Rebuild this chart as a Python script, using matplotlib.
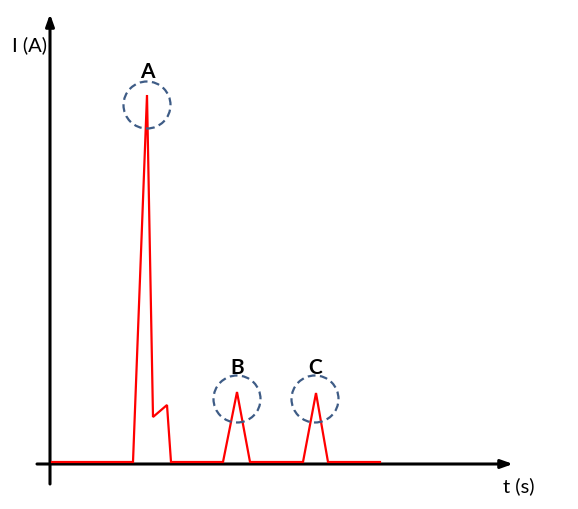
import matplotlib
matplotlib.use("Agg")
from matplotlib import pyplot as plt
from matplotlib.patches import Ellipse

# signal (arbitrary units)
t = [0.2, 8.3, 9.7, 10.3, 11.7, 12.1, 17.3, 18.7, 20.0, 25.3, 26.6, 27.8, 33.0]
current = [0.2, 0.2, 36.9, 4.7, 5.9, 0.2, 0.2, 7.2, 0.2, 0.2, 7.1, 0.2, 0.2]

# marked peaks
peak_names = ["A", "B", "C"]
peak_t = [9.7, 18.7, 26.5]
peak_i = [35.9, 6.5, 6.5]
label_i = [39.2, 9.6, 9.6]

fig = plt.figure(figsize=(5.78, 5.09), dpi=100)
ax = fig.add_axes([0, 0, 1, 1])
ax.set_xlim(-5.0, 52.8)
ax.set_ylim(-4.5, 46.4)
ax.axis("off")

# axes with arrows
arrow = dict(arrowstyle="-|>,head_length=0.7,head_width=0.25", color="black",
             lw=2.2, shrinkA=0, shrinkB=0)
ax.annotate("", xy=(46.3, 0), xytext=(-1.3, 0), arrowprops=arrow)
ax.annotate("", xy=(0, 45.0), xytext=(0, -2.0), arrowprops=arrow)

ax.plot(t, current, color="#FF0000", lw=1.6, solid_joinstyle="miter", zorder=3)

for name, x, y, ly in zip(peak_names, peak_t, peak_i, label_i):
    ax.add_patch(Ellipse((x, y), 4.7, 4.7, fill=False, ls=(0, (3.5, 2)),
                         lw=1.6, edgecolor="#3E5C86", zorder=4))
    ax.text(x, ly, name, ha="center", va="center", fontsize=15,
            fontweight="bold", family="Lato")

ax.text(-0.3, 41.9, "I (A)", ha="right", va="center", fontsize=14.5, family="Lato")
ax.text(46.9, -2.2, "t (s)", ha="center", va="center", fontsize=14.5, family="Lato")

fig.savefig("out.png", dpi=100)
